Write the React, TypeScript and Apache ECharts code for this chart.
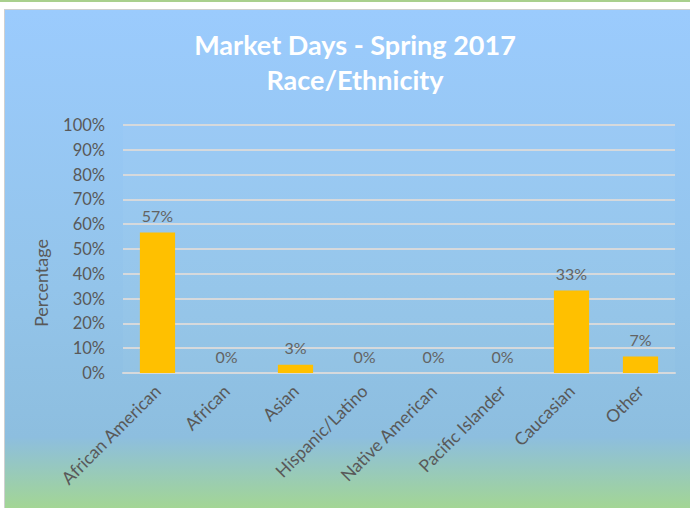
import React, { useEffect, useRef } from "react";
import * as echarts from "echarts";

const categories = [
  "African American",
  "African",
  "Asian",
  "Hispanic/Latino",
  "Native American",
  "Pacific Islander",
  "Caucasian",
  "Other",
];
const percentages = [56.7, 0, 3.3, 0, 0, 0, 33.3, 6.7];
const titleLines = ["Market Days - Spring 2017", "Race/Ethnicity"];
const yAxisTitle = "Percentage";

const FONT = "Lato, 'Open Sans', sans-serif";
const GREY = "#595959";

export default function App() {
  const ref = useRef<HTMLDivElement>(null);

  useEffect(() => {
    if (!ref.current) return;
    const chart = echarts.init(ref.current, undefined, { renderer: "svg" });
    chart.setOption({
      animation: false,
      backgroundColor: "transparent",
      title: {
        text: titleLines.join("\n"),
        left: 350,
        top: 22,
        textAlign: "center",
        textStyle: {
          color: "#ffffff",
          fontFamily: FONT,
          fontWeight: "bold",
          fontSize: 27,
          lineHeight: 35,
        },
      },
      grid: {
        left: 123,
        right: 15,
        top: 125,
        bottom: 135,
        containLabel: false,
        show: true,
        backgroundColor: "rgba(255,255,255,0.035)",
        borderWidth: 0,
      },
      xAxis: {
        type: "category",
        data: categories,
        axisLine: { show: true, lineStyle: { color: "#d6d9dc", width: 2 } },
        axisTick: { show: false },
        axisLabel: {
          interval: 0,
          rotate: 45,
          margin: 15,
          color: GREY,
          fontFamily: FONT,
          fontSize: 17.5,
        },
      },
      yAxis: {
        type: "value",
        min: 0,
        max: 100,
        interval: 10,
        axisLine: { show: false },
        axisTick: { show: false },
        axisLabel: {
          formatter: "{value}%",
          margin: 18,
          color: GREY,
          fontFamily: FONT,
          fontSize: 16.5,
        },
        splitLine: { lineStyle: { color: "#d6d9dc", width: 2 } },
      },
      graphic: [
        {
          type: "text",
          x: 41,
          y: 283,
          rotation: Math.PI / 2,
          style: {
            text: yAxisTitle,
            font: `18px ${FONT}`,
            fill: GREY,
            textAlign: "center",
            textVerticalAlign: "middle",
          },
        },
      ],
      series: [
        {
          type: "bar",
          data: percentages,
          barWidth: "51%",
          itemStyle: { color: "#FFC000" },
          label: {
            show: true,
            position: "top",
            distance: 9,
            formatter: (p: any) => `${Math.round(p.value)}%`,
            color: "#636363",
            fontFamily: FONT,
            fontSize: 16,
          },
        },
      ],
    });
    return () => chart.dispose();
  }, []);

  return (
    <div
      style={{
        position: "fixed",
        left: 0,
        top: 0,
        width: 690,
        height: 508,
        background: "#ffffff",
        overflow: "hidden",
      }}
    >
      <div
        style={{
          position: "absolute",
          left: 0,
          top: 0,
          width: 690,
          height: 2,
          background: "#A9D08E",
        }}
      />
      <div
        style={{
          position: "absolute",
          left: 4,
          top: 9,
          width: 700,
          height: 510,
          border: "1px solid #d0d0d0",
          boxSizing: "border-box",
          background:
            "linear-gradient(to bottom, #9BCBFD 0%, #93C4EA 55%, #8DBEDF 84%, #A6D98A 100%)",
        }}
      />
      <div
        ref={ref}
        style={{ position: "absolute", left: 0, top: 0, width: 690, height: 508 }}
      />
    </div>
  );
}
